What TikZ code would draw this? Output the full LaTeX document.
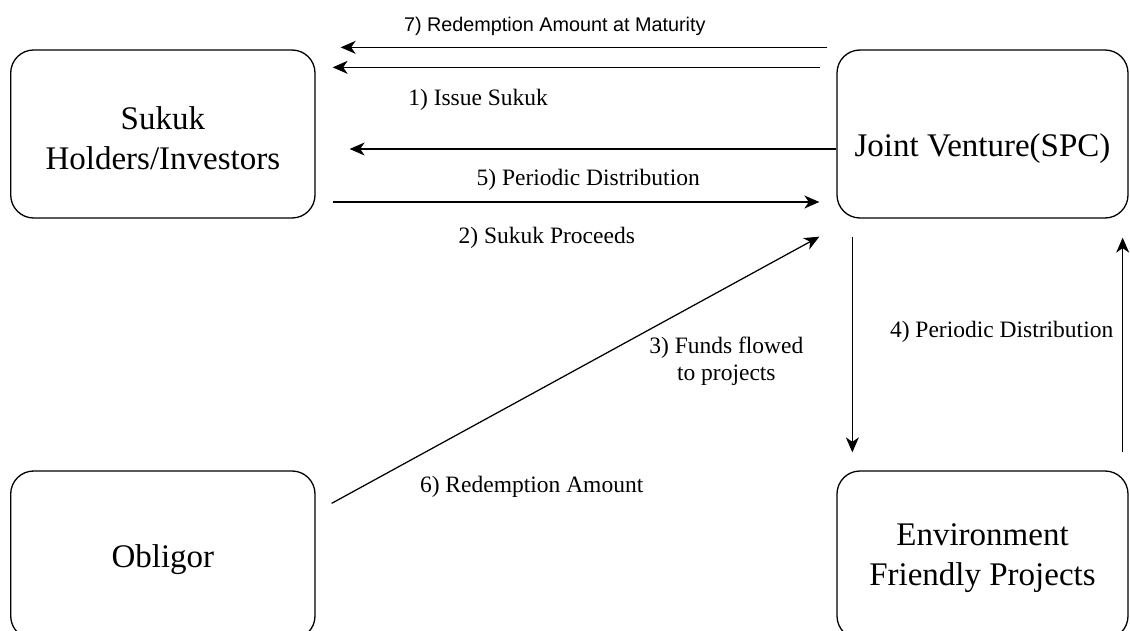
\documentclass[tikz,border=0pt]{standalone}
\usepackage{fontspec}
\setmainfont{Liberation Serif}
\newfontfamily\labelsans{Liberation Sans}
\usetikzlibrary{arrows.meta,calc}

\tikzset{
  party/.style={draw, line width=1.3pt, rounded corners=23pt,
                minimum height=168pt, inner sep=0pt},
  leftcol/.style={minimum width=304.3pt},
  rightcol/.style={minimum width=291pt},
  boxtext/.style={font=\fontsize{33}{40}\selectfont, align=center},
  flow/.style={line width=1.25pt, -{Stealth[length=15pt,width=13pt,inset=4.5pt]}},
  flowtext/.style={font=\fontsize{23.5}{27}\selectfont, align=center},
  matutext/.style={font=\labelsans\fontsize{19.8}{24}\selectfont},
}

\begin{document}
\begin{tikzpicture}[x=1pt, y=-1pt]
  \useasboundingbox (0,0) rectangle (1130,631);

  % parties
  \node[party, leftcol,
        label={[boxtext, yshift=-4pt]center:Sukuk\\Holders/Investors}]
        (S) at (162.85,134) {};
  \node[party, rightcol,
        label={[boxtext, yshift=-15pt]center:Joint Venture(SPC)}]
        (JV) at (982.5,134) {};
  \node[party, leftcol,
        label={[boxtext, yshift=-5pt]center:Obligor}]
        (O) at (162.85,555) {};
  \node[party, rightcol,
        label={[boxtext, yshift=-3pt]center:Environment\\Friendly Projects}]
        (E) at (982.5,555) {};

  % flows between the special purpose company and the sukuk holders
  \draw[flow] ($(JV.north west)+(-9,-2)$)
    -- node[matutext, pos=0.56, yshift=21pt] {7) Redemption Amount at Maturity}
       ($(S.north east)+(25,-2)$);
  \draw[flow] ($(JV.north west)+(-16,18)$) -- ($(S.north east)+(17,18)$);
  \draw[flow] ($(JV.west)+(0,15)$)
    -- node[flowtext, pos=0.736, yshift=49pt] {1) Issue Sukuk}
       ($(S.east)+(34,15)$);
  \draw[flow] ($(S.east)+(17,68)$)
    -- node[flowtext, pos=0.525, yshift=22pt] {5) Periodic Distribution}
       node[flowtext, pos=0.44, yshift=-36pt] {2) Sukuk Proceeds}
       ($(JV.west)+(-17,68)$);

  % obligor redemption
  \draw[flow] ($(O.north east)+(16,33)$)
    -- node[flowtext, pos=0, xshift=200pt, yshift=17pt] {6) Redemption Amount}
       ($(JV.south west)+(-17,18)$);

  % project funding and returns
  \draw[flow] ($(JV.south west)+(16,18)$)
    -- node[flowtext, pos=0.576, xshift=-126pt] {3) Funds flowed\\to projects}
       ($(E.north west)+(16,-18)$);
  \draw[flow] ($(E.north east)+(-6,-18)$)
    -- node[flowtext, pos=0.56, xshift=-121pt] {4) Periodic Distribution}
       ($(JV.south east)+(-6,19)$);
\end{tikzpicture}
\end{document}
